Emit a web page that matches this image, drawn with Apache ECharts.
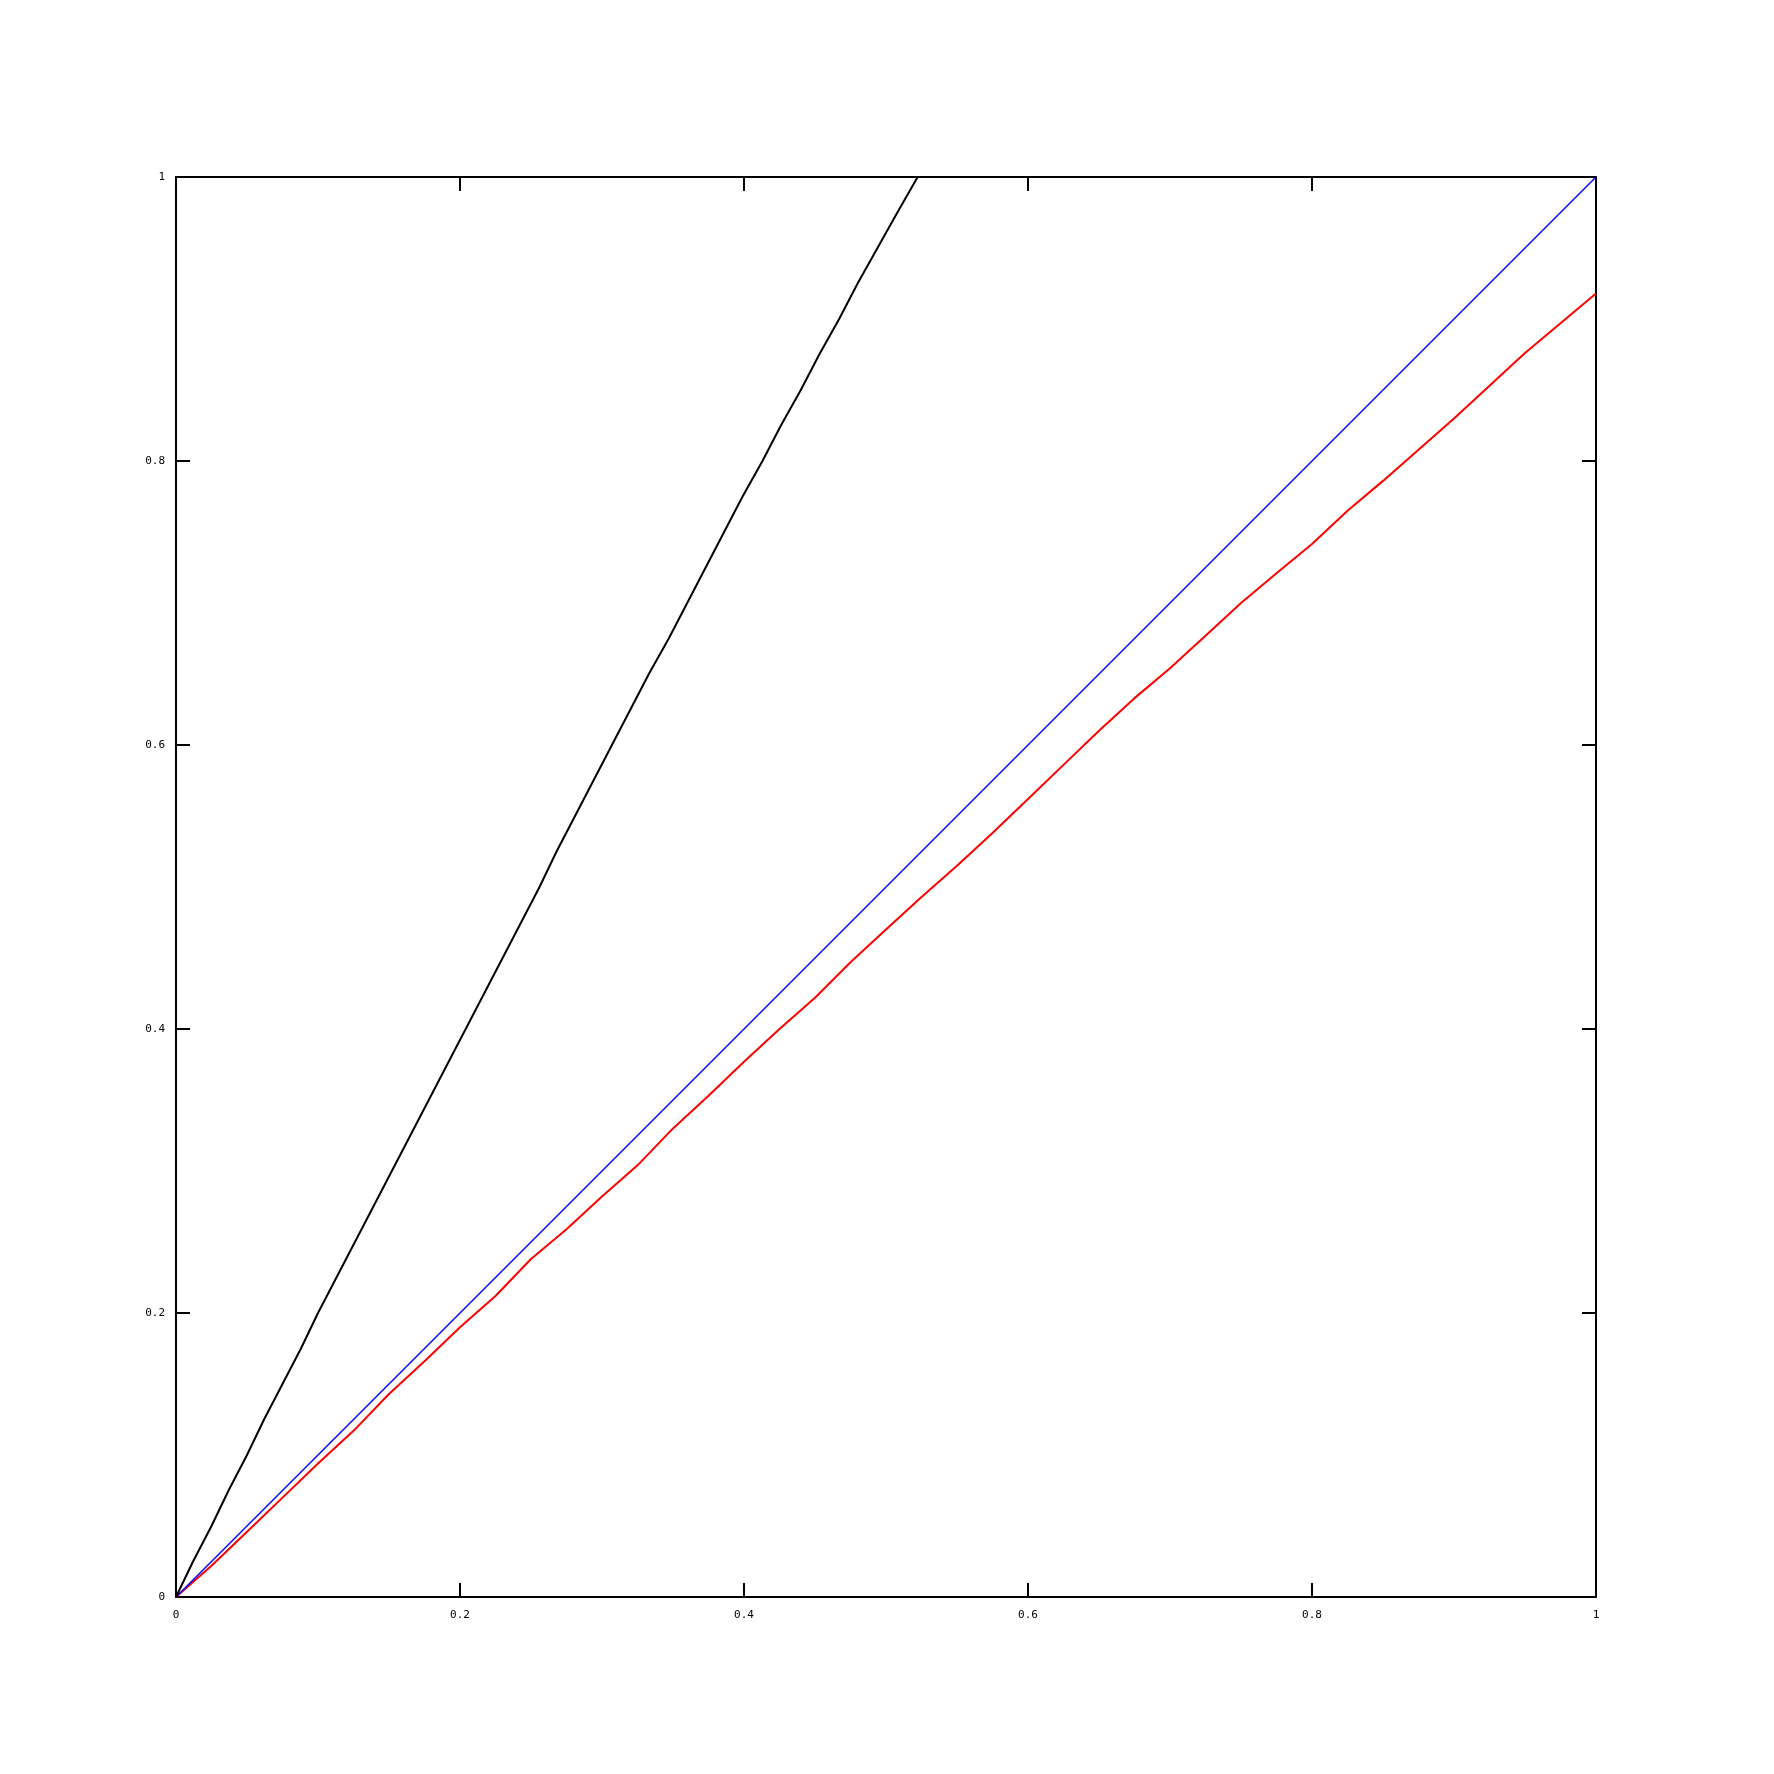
<!DOCTYPE html>
<html>
<head>
<meta charset="utf-8">
<script src="https://cdn.jsdelivr.net/npm/echarts@6/dist/echarts.min.js"></script>
<style>
html,body{margin:0;padding:0;background:#fff;}
#chart{width:1774px;height:1774px;}
</style>
</head>
<body>
<div id="chart"></div>
<script>
// Tick labels
const tickValues = [0, 0.2, 0.4, 0.6, 0.8, 1];
const tickLabels = ['0', '0.2', '0.4', '0.6', '0.8', '1'];

// Black curve (x, y)
const blackX = [0, 0.012, 0.025, 0.037, 0.05, 0.062, 0.075, 0.088, 0.1, 0.113, 0.126, 0.139, 0.152, 0.165, 0.178, 0.191, 0.204, 0.217, 0.23, 0.243, 0.256, 0.268, 0.281, 0.294, 0.307, 0.32, 0.333, 0.347, 0.36, 0.373, 0.386, 0.399, 0.413, 0.426, 0.44, 0.453, 0.467, 0.48, 0.494, 0.508, 0.5223];
const blackY = [0, 0.025, 0.05, 0.075, 0.1, 0.125, 0.15, 0.175, 0.2, 0.225, 0.25, 0.275, 0.3, 0.325, 0.35, 0.375, 0.4, 0.425, 0.45, 0.475, 0.5, 0.525, 0.55, 0.575, 0.6, 0.625, 0.65, 0.675, 0.7, 0.725, 0.75, 0.775, 0.8, 0.825, 0.85, 0.875, 0.9, 0.925, 0.95, 0.975, 1];

// Red curve (x, y)
const redX = [0, 0.025, 0.05, 0.075, 0.1, 0.125, 0.15, 0.175, 0.2, 0.225, 0.25, 0.275, 0.3, 0.325, 0.35, 0.375, 0.4, 0.425, 0.45, 0.475, 0.5, 0.525, 0.55, 0.575, 0.6, 0.625, 0.65, 0.675, 0.7, 0.725, 0.75, 0.775, 0.8, 0.825, 0.85, 0.875, 0.9, 0.925, 0.95, 0.975, 1];
const redY = [0, 0.022, 0.046, 0.07, 0.094, 0.117, 0.143, 0.166, 0.19, 0.212, 0.238, 0.259, 0.282, 0.304, 0.33, 0.353, 0.377, 0.4, 0.422, 0.447, 0.47, 0.493, 0.515, 0.538, 0.562, 0.586, 0.61, 0.633, 0.654, 0.677, 0.7, 0.721, 0.7415, 0.765, 0.786, 0.808, 0.83, 0.853, 0.876, 0.897, 0.918];

// Blue diagonal
const blueX = [0, 1];
const blueY = [0, 1];

const zip = (a, b) => a.map((v, i) => [v, b[i]]);
const fmt = v => { const i = tickValues.findIndex(t => Math.abs(t - v) < 1e-9); return i >= 0 ? tickLabels[i] : ''; };

const lbl = { fontFamily: 'DejaVu Sans Mono', fontSize: 11, color: '#000' };
const axisLine = { show: true, onZero: false, lineStyle: { color: '#000', width: 2 } };
const axisTick = { show: true, inside: true, length: 14, lineStyle: { color: '#000', width: 2 } };

const chart = echarts.init(document.getElementById('chart'));
chart.setOption({
  animation: false,
  backgroundColor: '#fff',
  grid: { left: 176, right: 178, top: 177, bottom: 177, containLabel: false },
  xAxis: [
    { type: 'value', min: 0, max: 1, interval: 0.2, position: 'bottom',
      axisLine, axisTick, splitLine: { show: false },
      axisLabel: Object.assign({ margin: 13, formatter: fmt }, lbl) },
    { type: 'value', min: 0, max: 1, interval: 0.2, position: 'top',
      axisLine, axisTick, splitLine: { show: false }, axisLabel: { show: false } }
  ],
  yAxis: [
    { type: 'value', min: 0, max: 1, interval: 0.2, position: 'left',
      axisLine, axisTick, splitLine: { show: false },
      axisLabel: Object.assign({ margin: 11, formatter: fmt }, lbl) },
    { type: 'value', min: 0, max: 1, interval: 0.2, position: 'right',
      axisLine, axisTick, splitLine: { show: false }, axisLabel: { show: false } }
  ],
  series: [
    { type: 'line', data: zip(blueX, blueY), symbol: 'none', lineStyle: { color: '#0000ff', width: 1.5 }, z: 3 },
    { type: 'line', data: zip(redX, redY), symbol: 'none', lineStyle: { color: '#ff0000', width: 2 }, z: 2 },
    { type: 'line', data: zip(blackX, blackY), symbol: 'none', lineStyle: { color: '#000000', width: 2 }, z: 4 }
  ]
});
</script>
</body>
</html>
